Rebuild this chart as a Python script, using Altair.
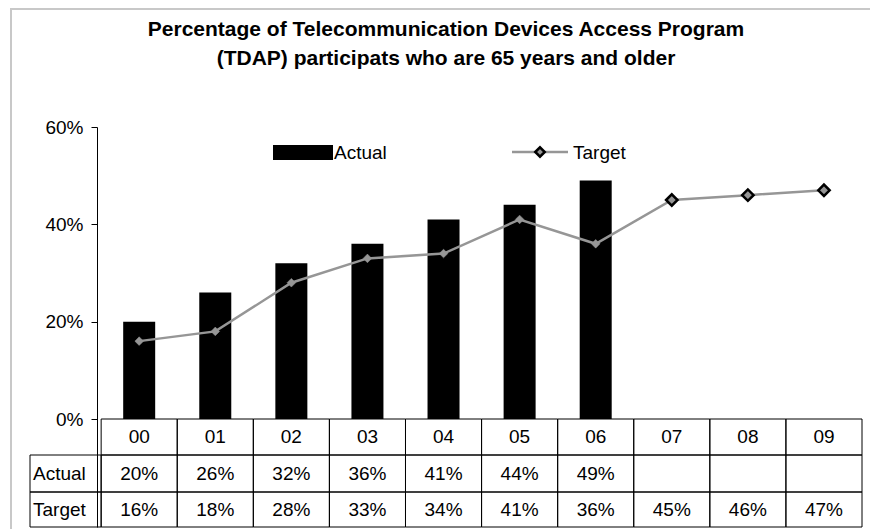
import altair as alt
import pandas as pd

# ---------------- data ----------------
years = ["00", "01", "02", "03", "04", "05", "06", "07", "08", "09"]
actual = [20, 26, 32, 36, 41, 44, 49, None, None, None]
target = [16, 18, 28, 33, 34, 41, 36, 45, 46, 47]
y_ticks = [0, 20, 40, 60]
row_names = ["Actual", "Target"]
legend_items = ["Actual", "Target"]
title_lines = [
    "Percentage of Telecommunication Devices Access Program",
    "(TDAP) participats who are 65 years and older",
]

# ---------------- layout constants ----------------
FONT = "Liberation Sans"
PLOT_H = 292            # pixels from 0% to 60%
YMAX = 60
ppu = PLOT_H / YMAX      # pixels per percentage point
ROW_PX = [36, 37, 35]    # header row, Actual row, Target row
TABLE_PX = sum(ROW_PX)
YMIN = -TABLE_PX / ppu
COL_PX = 77
LABEL_PX = 72
W = COL_PX * len(years) + LABEL_PX
H = PLOT_H + TABLE_PX
XMIN = -0.5 - LABEL_PX / COL_PX
XMAX = len(years) - 0.5

bounds = [0.0]
acc = 0
for r in ROW_PX:
    acc += r
    bounds.append(-acc / ppu)

xscale = alt.Scale(domain=[XMIN, XMAX], nice=False, zero=False)
yscale = alt.Scale(domain=[YMIN, YMAX], nice=False, zero=False)

main = pd.DataFrame({
    "year": years,
    "idx": list(range(len(years))),
    "actual": actual,
    "target": target,
})
main["projected"] = main["actual"].isna()

# ---------------- table cells ----------------
cells = []
texts = []
rows = [("hdr", years),
        ("Actual", [("" if v is None else f"{v}%") for v in actual]),
        ("Target", [f"{v}%" for v in target])]
for r, (name, vals) in enumerate(rows):
    y1, y2 = bounds[r], bounds[r + 1]
    for i, v in enumerate(vals):
        cells.append({"x1": i - 0.5, "x2": i + 0.5, "y1": y1, "y2": y2})
        texts.append({"x": i, "y": (y1 + y2) / 2, "t": v})
    if name != "hdr":
        cells.append({"x1": XMIN, "x2": -0.5, "y1": y1, "y2": y2})
cells = pd.DataFrame(cells)
texts = pd.DataFrame(texts)
rowlab = pd.DataFrame({
    "x": [XMIN, XMIN],
    "y": [(bounds[1] + bounds[2]) / 2, (bounds[2] + bounds[3]) / 2],
    "t": row_names,
})

X = lambda f: alt.X(f, type="quantitative", scale=xscale, axis=None)

yaxis = alt.Axis(values=y_ticks, labelExpr="datum.value + '%'", offset=-LABEL_PX,
                 domain=True, domainColor="black", domainWidth=1,
                 ticks=True, tickColor="black", tickSize=6, tickWidth=1,
                 labelFont=FONT, labelFontSize=19, labelColor="black",
                 labelPadding=8, grid=False, title=None)

frame = alt.Chart(pd.DataFrame({"a": [0]})).mark_rect(
    fill="white", fillOpacity=0, stroke="#c8c8c8", strokeWidth=2
).encode(x=alt.value(-14), x2=alt.value(W + 40), y=alt.value(-118), y2=alt.value(H + 4))

bars = alt.Chart(main).mark_bar(color="black", size=32).encode(
    x=X("idx"),
    y=alt.Y("actual:Q", scale=yscale, axis=yaxis),
    y2=alt.datum(0),
)

line = alt.Chart(main).mark_line(color="#969696", strokeWidth=2.5).encode(
    x=X("idx"), y=alt.Y("target:Q", scale=yscale)
)

pts = alt.Chart(main).mark_point(shape="diamond", fill="#969696", fillOpacity=1, opacity=1).encode(
    x=X("idx"), y=alt.Y("target:Q", scale=yscale),
    size=alt.condition("datum.projected", alt.value(130), alt.value(75)),
    stroke=alt.condition("datum.projected", alt.value("black"), alt.value("#969696")),
    strokeWidth=alt.condition("datum.projected", alt.value(2.5), alt.value(0.5)),
)

grid = alt.Chart(cells).mark_rect(fill="white", fillOpacity=0, stroke="black", strokeWidth=1).encode(
    x=X("x1"), x2="x2", y=alt.Y("y1:Q", scale=yscale), y2="y2"
)

table_txt = alt.Chart(texts).mark_text(font=FONT, fontSize=19, color="black").encode(
    x=X("x"), y=alt.Y("y:Q", scale=yscale), text="t:N"
)

row_txt = alt.Chart(rowlab).mark_text(font=FONT, fontSize=19, color="black", align="left", dx=3).encode(
    x=X("x"), y=alt.Y("y:Q", scale=yscale), text="t:N"
)

# ---------------- legend ----------------
leg = pd.DataFrame({"t": legend_items})
leg_a = leg[leg.t == "Actual"]
leg_t = leg[leg.t == "Target"]
leg_rect = alt.Chart(leg_a).mark_rect(color="black").encode(
    x=alt.value(248), x2=alt.value(308), y=alt.value(18), y2=alt.value(33))
leg_rect_txt = alt.Chart(leg_a).mark_text(font=FONT, fontSize=19, align="left", baseline="middle", color="black").encode(
    x=alt.value(309), y=alt.value(26), text="t:N")
leg_line = alt.Chart(leg_t).mark_rule(color="#969696", strokeWidth=2.5).encode(
    x=alt.value(487), x2=alt.value(543), y=alt.value(25))
leg_pt = alt.Chart(leg_t).mark_point(shape="diamond", fill="#969696", fillOpacity=1, opacity=1,
                                     stroke="black", strokeWidth=2.5, size=90).encode(
    x=alt.value(515), y=alt.value(25))
leg_line_txt = alt.Chart(leg_t).mark_text(font=FONT, fontSize=19, align="left", baseline="middle", color="black").encode(
    x=alt.value(548), y=alt.value(26), text="t:N")

chart = alt.layer(
    frame, grid, bars, line, pts, table_txt, row_txt,
    leg_rect, leg_rect_txt, leg_line, leg_pt, leg_line_txt,
).properties(
    width=W, height=H,
    padding={"left": 17, "top": 119, "right": 3, "bottom": 2},
    autosize="none",
    title=alt.TitleParams(text=title_lines, font=FONT, fontSize=21, fontWeight="bold",
                          color="black", anchor="middle", frame="group",
                          baseline="alphabetic", lineHeight=29, offset=-78),
).configure_view(stroke=None)

chart.save("out.html", embed_options={"renderer": "svg", "actions": False})
